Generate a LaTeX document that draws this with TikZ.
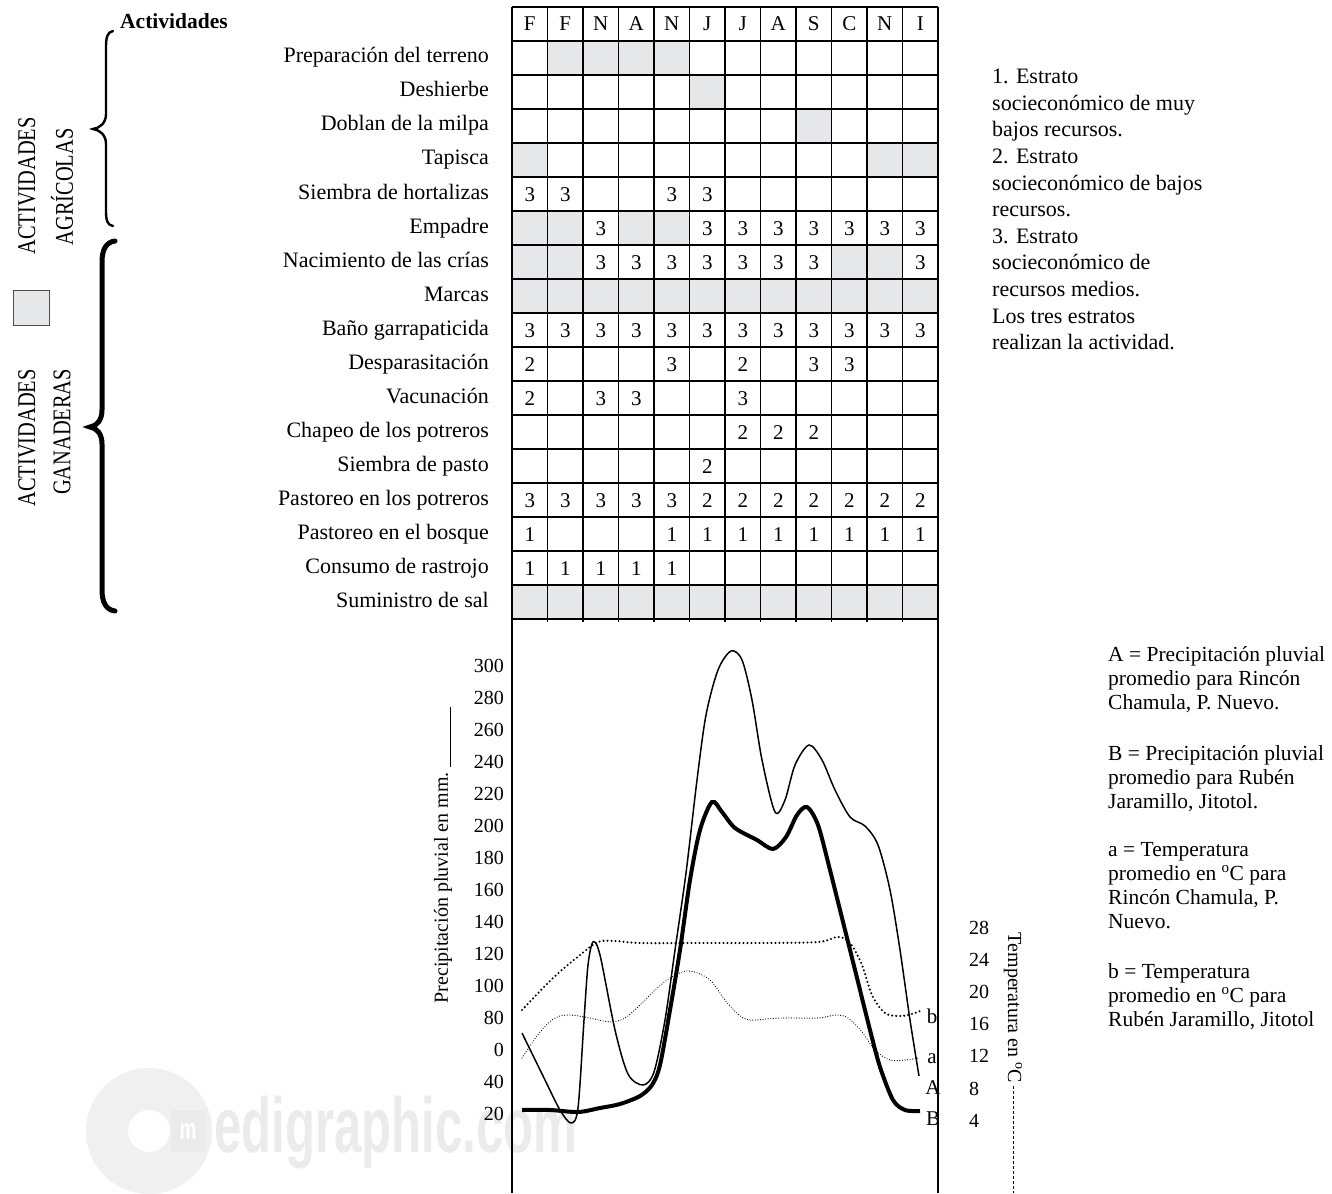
\documentclass[tikz,border=0pt]{standalone}
\usepackage{fontspec}
\setmainfont{Liberation Serif}
\newfontfamily\estrecha[FakeStretch=0.8]{Liberation Serif}
\newfontfamily\marcafont[FakeStretch=0.63]{Liberation Sans Bold}
\usetikzlibrary{positioning}

\definecolor{gris}{HTML}{E6E7E8}
\definecolor{agua}{HTML}{EBEBEB}
\definecolor{aro}{HTML}{F0F0F0}

\tikzset{
  rejilla/.style={line width=1.1pt},
  fila/.style={anchor=east, inner sep=0pt, font=\fontsize{22}{24}\selectfont, text height=15pt, text depth=5pt},
  celda/.style={inner sep=0pt, font=\fontsize{21}{21}\selectfont, text height=14pt, text depth=0pt},
  eje/.style={inner sep=0pt, font=\fontsize{20}{20}\selectfont, text height=14pt, text depth=0pt},
  grupo/.style={inner sep=0pt, font=\estrecha\fontsize{25.5}{25.5}\selectfont},
  titulo/.style={inner sep=0pt, font=\fontsize{20}{20}\selectfont},
  leyenda/.style={anchor=north west, align=left, inner sep=0pt},
  llave/.style={line width=2.4pt, line cap=round},
  curva/.style={inner sep=0pt, font=\fontsize{21}{21}\selectfont}
}
\newcommand{\grados}{\textsuperscript{o}C}

\begin{document}
\begin{tikzpicture}[x=1pt,y=-1pt]
\useasboundingbox (0,0) rectangle (1332,1193);

% marca de agua
\draw[aro, line width=42pt] (149,1131) circle (42pt);
\node[fill=agua, text=white, inner sep=0pt, minimum width=35pt, minimum height=42pt, font=\marcafont\fontsize{30}{30}\selectfont] (sello) at (188,1131) {m};
\node[anchor=base west, inner sep=0pt, text=agua, font=\marcafont\fontsize{78}{78}\selectfont] (marca) at (214,1152) {edigraphic.com};

% casillas grises
\foreach \r/\cols in {1/{2,3,4,5},2/{6},3/{9},4/{1,11,12},6/{1,2,4,5},7/{1,2,10,11},8/{1,...,12},17/{1,...,12}}
  \foreach \c in \cols
    \fill[gris] ({512+35.5*(\c-1)},{7+34*\r}) rectangle ++(35.5,34);

% rejilla
\foreach \i in {0,...,18}
  \draw[rejilla] (512,{7+34*\i}) -- (938,{7+34*\i});
\foreach \j in {1,...,11}
  \draw[rejilla] ({512+35.5*\j},7) -- ({512+35.5*\j},622);
\draw[rejilla] (512,7) -- (512,1193);
\draw[rejilla] (938,7) -- (938,1193);

% meses
\foreach \m [count=\j] in {F,F,N,A,N,J,J,A,S,C,N,I}
  \node[celda] (m\j) at ({512+35.5*(\j-0.5)},24) {\m};

% actividades
\node[anchor=west, inner sep=0pt, font=\bfseries\fontsize{21.5}{22}\selectfont] (tit) at (120,21) {Actividades};
\foreach \t [count=\i] in {Preparación del terreno,Deshierbe,Doblan de la milpa,Tapisca,Siembra de hortalizas,Empadre,Nacimiento de las crías,Marcas,Baño garrapaticida,Desparasitación,Vacunación,Chapeo de los potreros,Siembra de pasto,Pastoreo en los potreros,Pastoreo en el bosque,Consumo de rastrojo,Suministro de sal}
  \node[fila] (f\i) at (489,{24+34*\i}) {\t};

% estratos
\foreach \r/\v/\cols in {5/3/{1,2,5,6},6/3/{3,6,7,8,9,10,11,12},7/3/{3,4,5,6,7,8,9,12},9/3/{1,...,12},10/2/{1,7},10/3/{5,9,10},11/2/{1},11/3/{3,4,7},12/2/{7,8,9},13/2/{6},14/3/{1,...,5},14/2/{6,...,12},15/1/{1,5,6,7,8,9,10,11,12},16/1/{1,...,5}}
  \foreach \c in \cols
    \node[celda] (n\r-\c) at ({512+35.5*(\c-0.5)},{24+34*\r}) {\v};

% llaves
\draw[llave] (113,31) .. controls (107,32) and (106,38) .. (106,48) -- (106,114)
  .. controls (106,123) and (100,128) .. (93,129) .. controls (100,130) and (106,135) .. (106,144)
  -- (106,210) .. controls (106,220) and (107,225) .. (113,226);
\draw[llave, line width=5pt] (115,241) .. controls (106,242) and (102,250) .. (102,262) -- (102,410)
  .. controls (102,420) and (97,426) .. (90,427) .. controls (97,428) and (102,434) .. (102,444)
  -- (102,590) .. controls (102,602) and (106,610) .. (115,611);

\node[grupo, rotate=90] (g1) at (27,186) {ACTIVIDADES};
\node[grupo, rotate=90] (g2) at (62,187) {AGRÍCOLAS};
\node[grupo, rotate=90] (g3) at (27,438) {ACTIVIDADES};
\node[grupo, rotate=90] (g4) at (62,432) {GANADERAS};
\node[draw=black!70, fill=gris, line width=0.8pt, minimum width=36pt, minimum height=35pt, inner sep=0pt] (clave) at (31,307.5) {};

% leyenda de estratos
\node[leyenda, font=\fontsize{22}{26.6}\selectfont] (est) at (992,69) {1. Estrato\\socieconómico de muy\\bajos recursos.\\2. Estrato\\socieconómico de bajos\\recursos.\\3. Estrato\\socieconómico de\\recursos medios.\\Los tres estratos\\realizan la actividad.};

% ejes
\foreach \v [count=\k from 0] in {300,280,260,240,220,200,180,160,140,120,100,80,0,40,20}
  \node[eje, anchor=east] (p\k) at (504,{665+32*\k}) {\v};
\foreach \v [count=\k from 0] in {28,24,20,16,12,8,4}
  \node[eje, anchor=west] (t\k) at (969,{927+32.2*\k}) {\v};
\node[titulo, rotate=90] (tp) at (443,888) {Precipitación pluvial en mm.};
\coordinate (lp) at (450,767);
\draw[line width=1pt] (lp) -- ++(0,-60);
\node[titulo, rotate=-90] (tt) at (1013,1008) {Temperatura en \grados};
\coordinate (lt) at (1013,1086);
\draw[line width=1pt, dash pattern=on 3pt off 2pt] (lt) -- (1013,1193);

% b
\draw[line width=2.3pt, line cap=round, dash pattern=on 0pt off 4pt] plot[smooth, tension=0.55] coordinates {(522,1010) (553,978) (580,955) (598,942) (615,941) (640,943) (700,943) (760,943) (818,942) (838,937) (850,943) (862,965) (872,995) (885,1013) (900,1016) (912,1014) (920,1011)};
% a
\draw[line width=1.2pt, line cap=round, dash pattern=on 0pt off 2.6pt] plot[smooth, tension=0.55] coordinates {(522,1058) (540,1032) (555,1018) (570,1015) (590,1018) (610,1022) (625,1018) (640,1005) (655,990) (670,978) (686,971) (700,974) (712,982) (725,1000) (738,1014) (750,1020) (780,1018) (818,1018) (836,1015) (848,1018) (862,1032) (875,1050) (890,1060) (905,1060) (919,1058)};
% A
\draw[line width=1.5pt] plot[smooth, tension=0.5] coordinates {(522,1033) (545,1080) (560,1110) (571,1123) (578,1108) (584,1020) (588,965) (593,942) (600,955) (615,1030) (628,1074) (643,1085) (654,1072) (665,1020) (675,950) (686,873) (697,780) (706,715) (718,670) (731,651) (742,660) (752,700) (762,760) (775,812) (785,800) (795,765) (809,745) (822,760) (835,790) (850,817) (865,826) (878,845) (890,890) (900,950) (910,1020) (919,1076)};
% B
\draw[line width=4pt] plot[smooth, tension=0.5] coordinates {(522,1110) (550,1110) (578,1112) (600,1108) (620,1104) (640,1096) (652,1085) (660,1065) (670,1010) (680,950) (690,880) (700,830) (712,802) (722,812) (735,828) (757,840) (773,849) (786,837) (797,815) (807,807) (818,825) (830,870) (840,910) (858,982) (870,1030) (880,1067) (893,1100) (905,1110) (920,1111)};

\node[curva] (lb) at (932,1016) {b};
\node[curva] (la) at (932,1059) {a};
\node[curva] (lA) at (933,1088) {A};
\node[curva] (lB) at (933,1119) {B};

% leyenda de curvas
\node[leyenda, font=\fontsize{21.5}{24}\selectfont] (cA) at (1108,646) {A = Precipitación pluvial\\promedio para Rincón\\Chamula, P. Nuevo.};
\node[leyenda, font=\fontsize{21.5}{24}\selectfont] (cB) at (1108,745) {B = Precipitación pluvial\\promedio para Rubén\\Jaramillo, Jitotol.};
\node[leyenda, font=\fontsize{21.5}{24}\selectfont] (ca) at (1108,842) {a = Temperatura\\promedio en \grados{} para\\Rincón Chamula, P.\\Nuevo.};
\node[leyenda, font=\fontsize{21.5}{24}\selectfont] (cb) at (1108,963) {b = Temperatura\\promedio en \grados{} para\\Rubén Jaramillo, Jitotol};
\end{tikzpicture}
\end{document}
